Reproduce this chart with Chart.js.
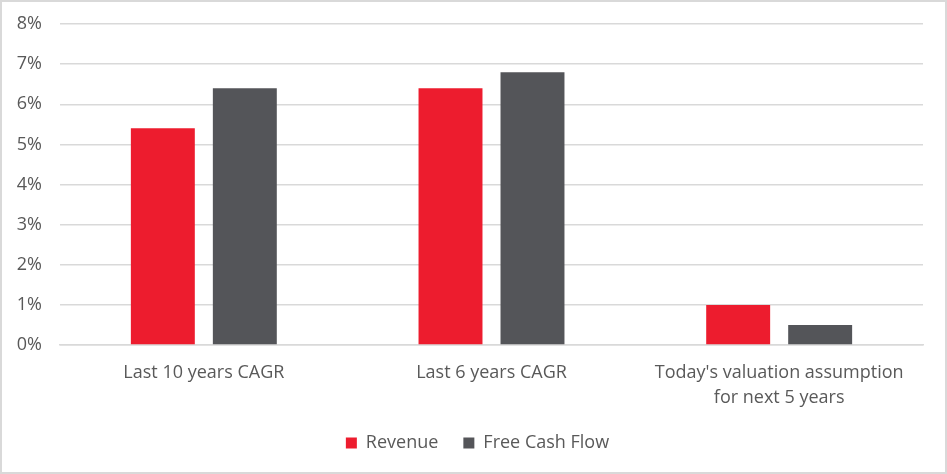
<!DOCTYPE html>
<html><head><meta charset="utf-8">
<script src="https://cdn.jsdelivr.net/npm/chart.js@4/dist/chart.umd.min.js"></script>
<style>
html,body{margin:0;padding:0;background:#fff;}
#wrap{position:relative;width:947px;height:474px;box-sizing:border-box;border:2px solid #d9d9d9;}
</style></head><body>
<div id="wrap"><canvas id="c"></canvas></div>
<script>
const categories = ["Last 10 years CAGR", "Last 6 years CAGR", ["Today's valuation assumption", "for next 5 years"]];
const revenue = [5.4, 6.4, 1.0];
const freeCashFlow = [6.4, 6.8, 0.5];
const yTicks = [0,1,2,3,4,5,6,7,8];

const legendShift = {
  id: 'legendShift',
  afterLayout(chart) {
    const lg = chart.legend;
    if (!lg) return;
    lg.top -= 16; lg.bottom -= 16;
    lg.left += 15; lg.right += 15;
  }
};

new Chart(document.getElementById('c'), {
  type: 'bar',
  data: {
    labels: categories,
    datasets: [
      {label: 'Revenue', data: revenue, backgroundColor: '#ED1C2E', barPercentage: 0.78, categoryPercentage: 0.57},
      {label: 'Free Cash Flow', data: freeCashFlow, backgroundColor: '#545559', barPercentage: 0.78, categoryPercentage: 0.57}
    ]
  },
  plugins: [legendShift],
  options: {
    responsive: true, maintainAspectRatio: false, animation: false,
    layout: {padding: {left: 0, right: 22, top: 0, bottom: 7}},
    plugins: {
      legend: {position: 'bottom', maxHeight: 40, labels: {color: '#595959', font: {family: 'Open Sans', size: 18}, boxWidth: 11, boxHeight: 11, padding: 25}},
      tooltip: {enabled: false}
    },
    scales: {
      x: {
        grid: {display: false, drawTicks: false},
        border: {display: true, color: '#d9d9d9', width: 1.5},
        ticks: {color: '#595959', font: {family: 'Open Sans', size: 18, lineHeight: 1.4}, padding: 15, maxRotation: 0},
        afterFit: ax => { ax.height = 80; }
      },
      y: {
        min: 0, max: 8,
        afterBuildTicks: ax => { ax.ticks = yTicks.map(v => ({value: v})); },
        grid: {color: '#d9d9d9', lineWidth: 1.5, drawTicks: false},
        border: {display: false},
        ticks: {color: '#595959', font: {family: 'Open Sans', size: 18}, padding: 18, callback: v => v + '%'},
        afterFit: ax => { ax.width = 58; ax.paddingTop = 22; }
      }
    }
  }
});
</script>
</body></html>
